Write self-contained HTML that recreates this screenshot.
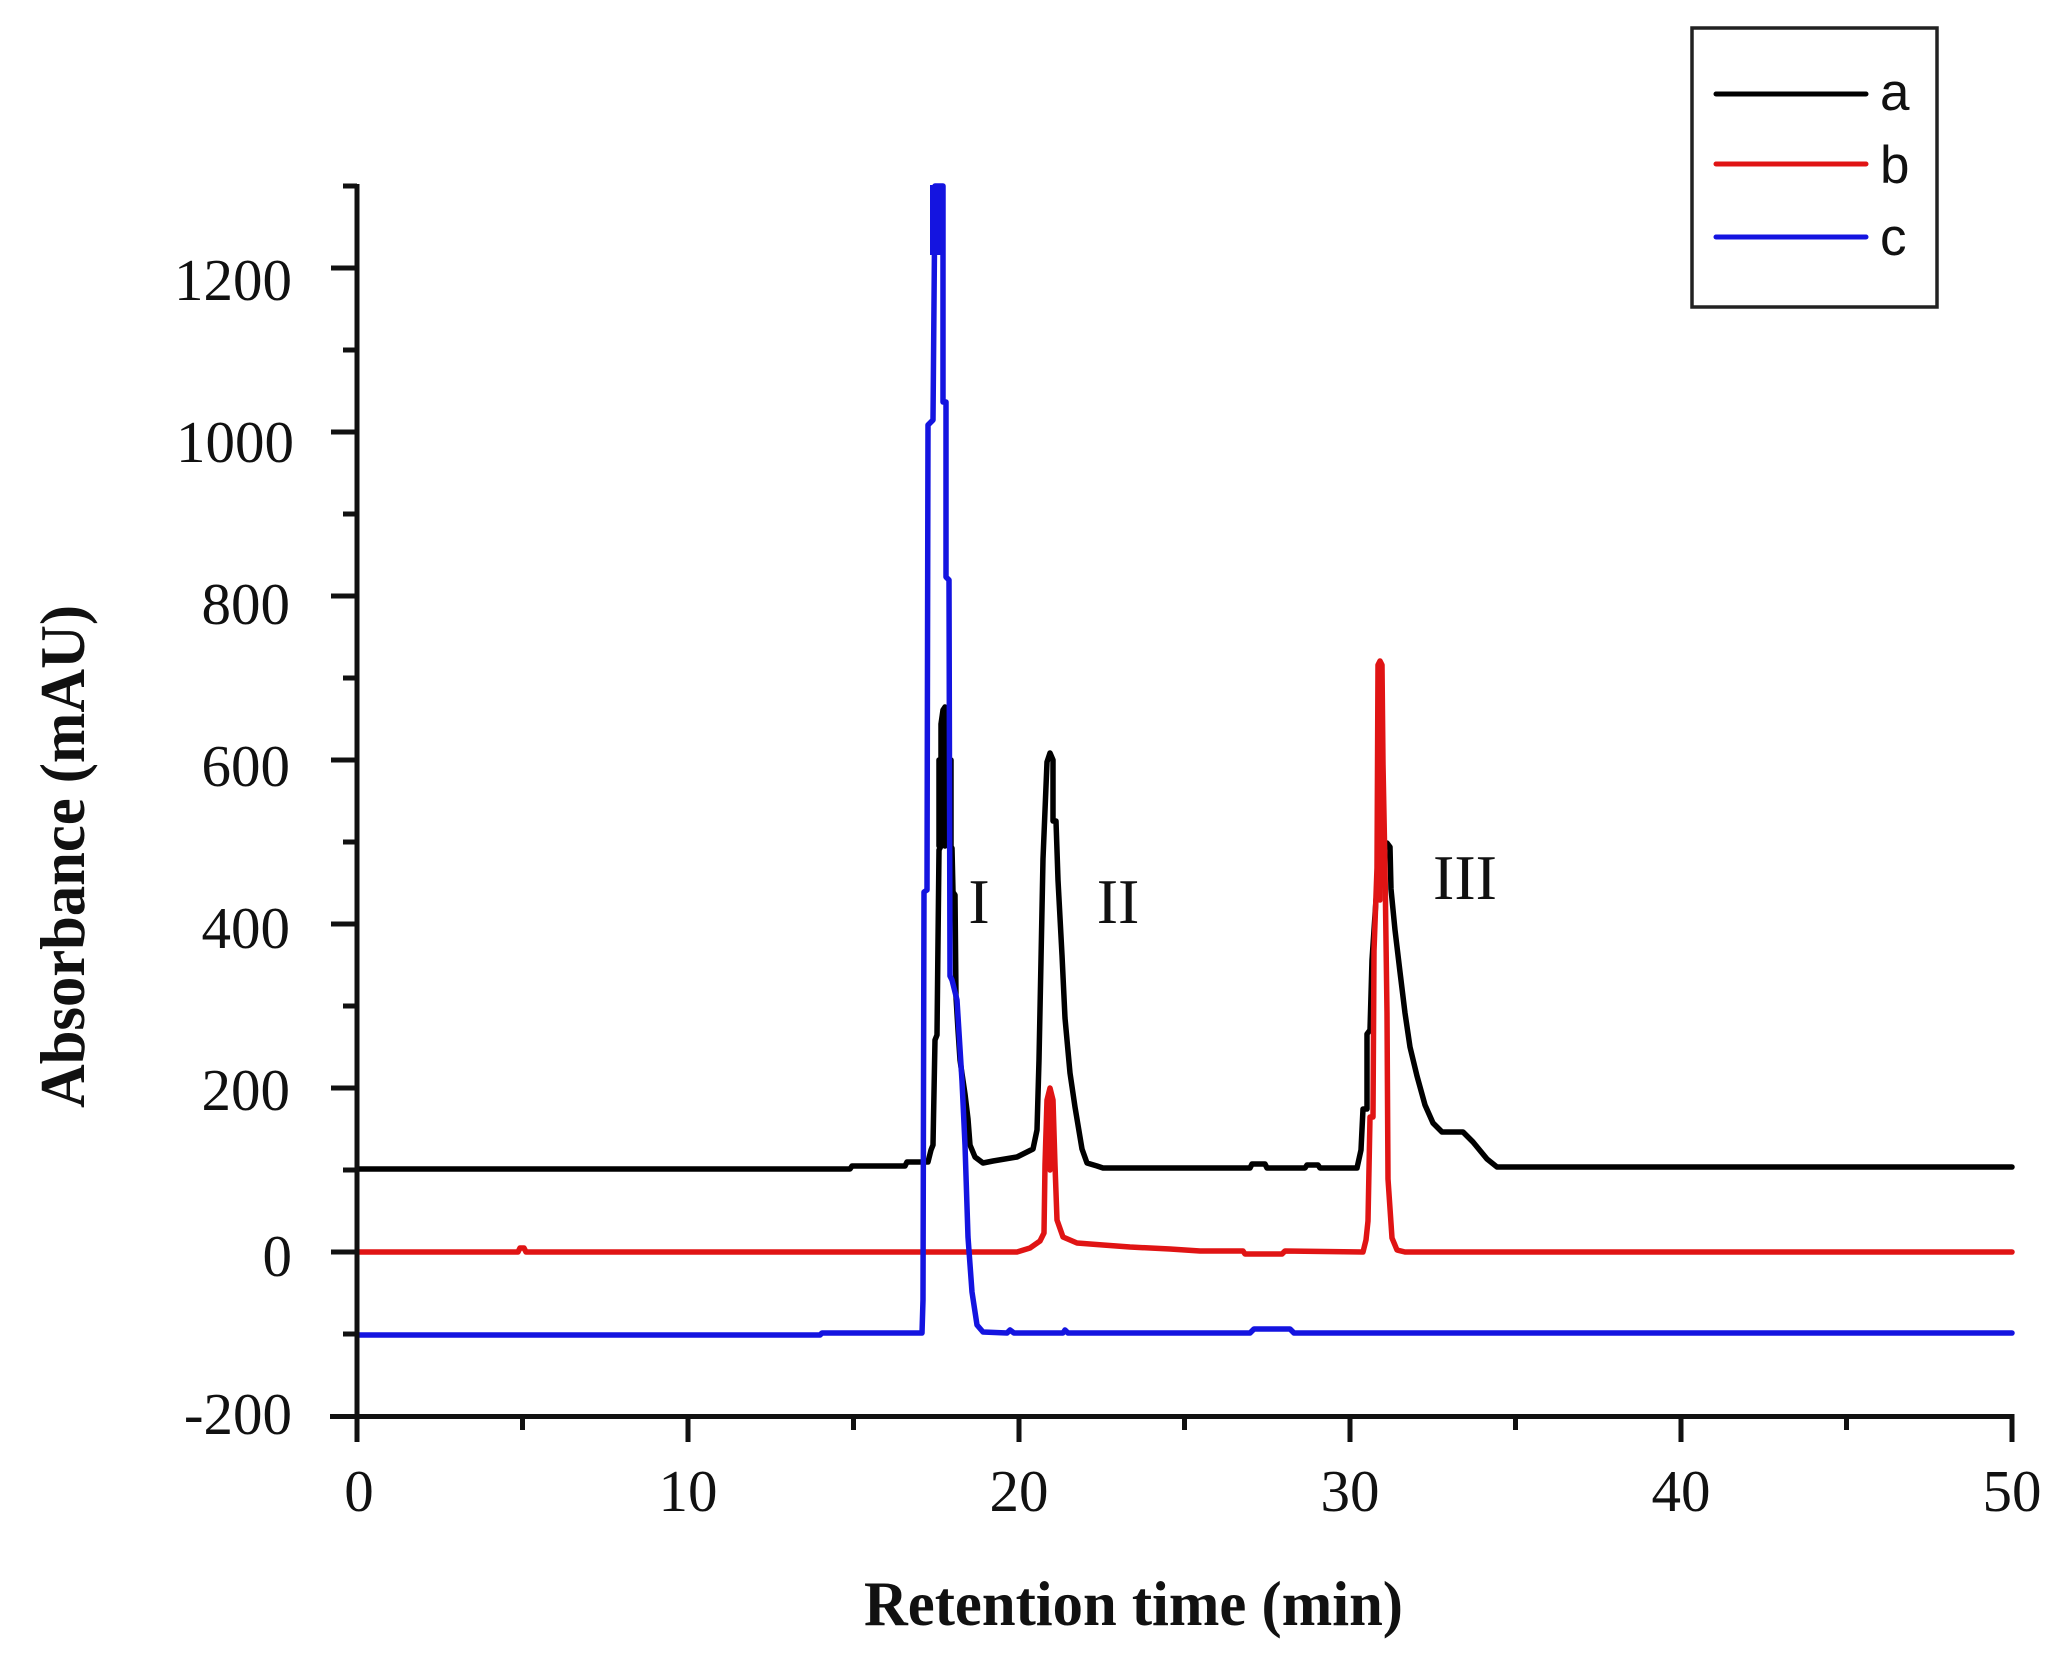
<!DOCTYPE html>
<html>
<head>
<meta charset="utf-8">
<style>
  html,body{margin:0;padding:0;background:#fff;}
  svg{display:block;}
  .tick{font-family:"Liberation Serif",serif;font-size:59px;fill:#111;}
  .title{font-family:"Liberation Serif",serif;font-weight:bold;font-size:64px;fill:#111;}
  .roman{font-family:"Liberation Serif",serif;font-size:64px;fill:#111;}
  .leg{font-family:"Liberation Sans",sans-serif;font-size:53px;fill:#111;}
</style>
</head>
<body>
<svg width="2068" height="1660" viewBox="0 0 2068 1660" xmlns="http://www.w3.org/2000/svg">
  <rect x="0" y="0" width="2068" height="1660" fill="#fff"/>

  <!-- traces -->
  <g fill="none" stroke-width="5.5" stroke-linejoin="round" stroke-linecap="round">
    <path stroke="#000" d="M357,1169 L850,1169 L852,1166 L905,1166 L907,1162 L928,1162 L931,1150 L933,1145 L935,1040 L937,1035 L939,850 L941,846 L941,724 L943,710 L945,707 L947,710 L948,720 L949,846 L952,848 L953,892 L955,895 L956,997 L958,1030 L960,1060 L965,1094 L968,1119 L970,1145 L975,1157 L983,1163 L993,1161 L1017,1157 L1033,1149 L1037,1130 L1039,1060 L1041,960 L1043,859 L1047,762 L1050,753 L1053,760 L1053,821 L1056,821 L1058,880 L1062,955 L1065,1018 L1070,1073 L1075,1107 L1082,1149 L1087,1163 L1097,1166 L1103,1168 L1250,1168 L1252,1164 L1265,1164 L1267,1168 L1305,1168 L1307,1165 L1318,1165 L1320,1168 L1357,1168 L1361,1150 L1363,1109 L1367,1109 L1367,1034 L1370,1030 L1372,960 L1376,900 L1380,870 L1384,850 L1387,843 L1390,847 L1391,889 L1395,930 L1400,972 L1405,1013 L1410,1047 L1417,1076 L1425,1105 L1433,1123 L1442,1132 L1463,1132 L1473,1142 L1487,1159 L1497,1167 L2012,1167"/>
    <path stroke="#000" d="M939,760 L939,846 M951,760 L951,846 M945,710 L945,846"/>
    <path stroke="#e01414" d="M357,1252 L518,1252 L520,1248 L524,1248 L526,1252 L1017,1252 L1030,1248 L1040,1241 L1044,1233 L1045,1165 L1047,1100 L1050,1088 L1053,1100 L1055,1165 L1057,1220 L1063,1237 L1077,1243 L1103,1245 L1130,1247 L1170,1249 L1200,1251 L1243,1251 L1245,1254 L1282,1254 L1285,1251 L1363,1252 L1366,1240 L1368,1221 L1370,1117 L1373,1117 L1374,951 L1377,868 L1378,665 L1380,661 L1382,665 L1383,764 L1385,868 L1387,1013 L1388,1179 L1392,1238 L1397,1250 L1405,1252 L2012,1252"/>
    <path stroke="#e01414" d="M1050,1095 L1050,1170 M1380,700 L1380,900"/>
    <path stroke="#1414e0" d="M357,1335 L820,1335 L822,1333 L922,1333 L923,1300 L924,892 L927,890 L928,425 L933,420 L935,186 L943,186 L943,402 L946,402 L946,577 L949,580 L950,976 L952,980 L957,1000 L962,1081 L965,1145 L968,1237 L972,1292 L977,1325 L983,1332 L1007,1333 L1010,1330 L1014,1333 L1063,1333 L1065,1330 L1068,1333 L1250,1333 L1254,1329 L1290,1329 L1294,1333 L2012,1333"/>
  </g>
  <rect x="930" y="185" width="15" height="70" fill="#1414e0"/>

  <!-- axes -->
  <g stroke="#111" stroke-width="5" fill="none" stroke-linecap="butt">
    <line x1="357" y1="184" x2="357" y2="1442"/>
    <line x1="330" y1="1416.5" x2="2014" y2="1416.5"/>
    <!-- y major ticks -->
    <line x1="331" y1="268" x2="357" y2="268"/>
    <line x1="331" y1="432" x2="357" y2="432"/>
    <line x1="331" y1="596" x2="357" y2="596"/>
    <line x1="331" y1="760" x2="357" y2="760"/>
    <line x1="331" y1="924" x2="357" y2="924"/>
    <line x1="331" y1="1088" x2="357" y2="1088"/>
    <line x1="331" y1="1252" x2="357" y2="1252"/>
    <!-- y minor ticks -->
    <line x1="343" y1="186" x2="357" y2="186"/>
    <line x1="343" y1="350" x2="357" y2="350"/>
    <line x1="343" y1="514" x2="357" y2="514"/>
    <line x1="343" y1="678" x2="357" y2="678"/>
    <line x1="343" y1="842" x2="357" y2="842"/>
    <line x1="343" y1="1006" x2="357" y2="1006"/>
    <line x1="343" y1="1170" x2="357" y2="1170"/>
    <line x1="343" y1="1334" x2="357" y2="1334"/>
    <!-- x major ticks -->
    <line x1="688" y1="1416" x2="688" y2="1442"/>
    <line x1="1019" y1="1416" x2="1019" y2="1442"/>
    <line x1="1350" y1="1416" x2="1350" y2="1442"/>
    <line x1="1681" y1="1416" x2="1681" y2="1442"/>
    <line x1="2012" y1="1414" x2="2012" y2="1442"/>
    <!-- x minor ticks -->
    <line x1="522.5" y1="1416" x2="522.5" y2="1430"/>
    <line x1="853.5" y1="1416" x2="853.5" y2="1430"/>
    <line x1="1184.5" y1="1416" x2="1184.5" y2="1430"/>
    <line x1="1515.5" y1="1416" x2="1515.5" y2="1430"/>
    <line x1="1846.5" y1="1416" x2="1846.5" y2="1430"/>
  </g>

  <!-- y tick labels -->
  <g class="tick" text-anchor="end">
    <text x="292" y="300">1200</text>
    <text x="294" y="462">1000</text>
    <text x="290" y="624">800</text>
    <text x="290" y="786">600</text>
    <text x="290" y="948">400</text>
    <text x="290" y="1110">200</text>
    <text x="292" y="1276">0</text>
    <text x="292" y="1434">-200</text>
  </g>

  <!-- x tick labels -->
  <g class="tick" text-anchor="middle">
    <text x="359" y="1511">0</text>
    <text x="688" y="1511">10</text>
    <text x="1019" y="1511">20</text>
    <text x="1350" y="1511">30</text>
    <text x="1681" y="1511">40</text>
    <text x="2012" y="1511">50</text>
  </g>

  <!-- axis titles -->
  <text class="title" x="864" y="1625" textLength="539" lengthAdjust="spacingAndGlyphs">Retention time (min)</text>
  <text class="title" transform="translate(84,1108) rotate(-90)" x="0" y="0" textLength="503" lengthAdjust="spacingAndGlyphs">Absorbance (mAU)</text>

  <!-- peak labels -->
  <g class="roman" text-anchor="middle">
    <text x="979" y="923">I</text>
    <text x="1118" y="923">II</text>
    <text x="1465" y="899">III</text>
  </g>

  <!-- legend -->
  <rect x="1692" y="28" width="245" height="279" fill="#fff" stroke="#222" stroke-width="3.5"/>
  <g stroke-width="5" stroke-linecap="round">
    <line x1="1716" y1="94" x2="1866" y2="94" stroke="#000"/>
    <line x1="1716" y1="164" x2="1866" y2="164" stroke="#e01414"/>
    <line x1="1716" y1="237" x2="1866" y2="237" stroke="#1414e0"/>
  </g>
  <g class="leg">
    <text x="1880" y="110">a</text>
    <text x="1880" y="183">b</text>
    <text x="1880" y="255">c</text>
  </g>
</svg>
</body>
</html>
